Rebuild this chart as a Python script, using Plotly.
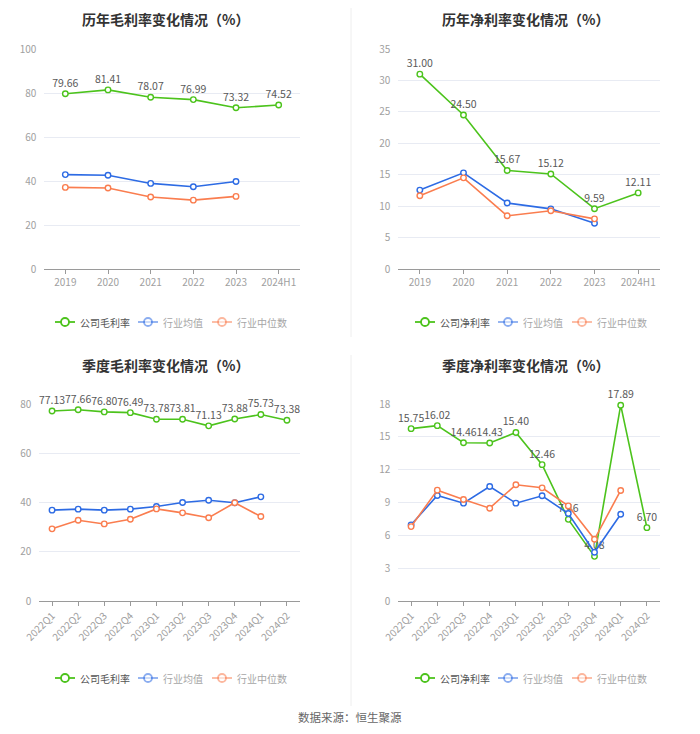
import plotly.graph_objects as go

W, H = 700, 734
OFF = 8  # page body margin
FW, FH = W - 2 * OFF, H - 2 * OFF

years = ["2019", "2020", "2021", "2022", "2023", "2024H1"]
annual_gross_company = [79.66, 81.41, 78.07, 76.99, 73.32, 74.52]
annual_gross_avg = [42.9, 42.6, 38.9, 37.4, 39.8]
annual_gross_median = [37.1, 36.8, 32.7, 31.3, 33.0]

annual_net_company = [31.00, 24.50, 15.67, 15.12, 9.59, 12.11]
annual_net_avg = [12.55, 15.3, 10.5, 9.57, 7.29]
annual_net_median = [11.65, 14.5, 8.46, 9.26, 7.98]

quarters = ["2022Q1", "2022Q2", "2022Q3", "2022Q4", "2023Q1", "2023Q2",
            "2023Q3", "2023Q4", "2024Q1", "2024Q2"]
q_gross_company = [77.13, 77.66, 76.80, 76.49, 73.78, 73.81, 71.13, 73.88, 75.73, 73.38]
q_gross_avg = [36.9, 37.3, 36.9, 37.3, 38.4, 40.0, 40.9, 39.9, 42.3]
q_gross_median = [29.3, 32.8, 31.3, 33.2, 37.4, 35.8, 33.8, 39.9, 34.3]

q_net_company = [15.75, 16.02, 14.46, 14.43, 15.40, 12.46, 7.46, 4.08, 17.89, 6.70]
q_net_avg = [6.96, 9.64, 8.94, 10.46, 8.94, 9.61, 7.99, 4.45, 7.93]
q_net_median = [6.80, 10.13, 9.27, 8.48, 10.62, 10.34, 8.69, 5.64, 10.10]

titles = ["历年毛利率变化情况（%）", "历年净利率变化情况（%）",
          "季度毛利率变化情况（%）", "季度净利率变化情况（%）"]
legend_names = [["公司毛利率", "行业均值", "行业中位数"],
                ["公司净利率", "行业均值", "行业中位数"],
                ["公司毛利率", "行业均值", "行业中位数"],
                ["公司净利率", "行业均值", "行业中位数"]]

GREEN = "#4cc31c"
BLUE = "#2d6be4"
ORANGE = "#fa7d4f"
FONT = "Noto Sans CJK SC"


def px_x(x):
    return (x - OFF) / FW


def px_y(y):
    return 1 - (y - OFF) / FH


panels = [
    dict(cats=years, series=[annual_gross_company, annual_gross_avg, annual_gross_median],
         xd=(44, 300), yd=(49, 269), yr=(0, 100), dt=20, rot=False,
         title=(165, 12), leg=(55, 322)),
    dict(cats=years, series=[annual_net_company, annual_net_avg, annual_net_median],
         xd=(398, 660), yd=(49, 269), yr=(0, 35), dt=5, rot=False,
         title=(525, 12), leg=(415, 322)),
    dict(cats=quarters, series=[q_gross_company, q_gross_avg, q_gross_median],
         xd=(39, 300), yd=(404, 601), yr=(0, 80), dt=20, rot=True,
         title=(165, 365), leg=(55, 678)),
    dict(cats=quarters, series=[q_net_company, q_net_avg, q_net_median],
         xd=(398, 660), yd=(404, 601), yr=(0, 18), dt=3, rot=True,
         title=(525, 365), leg=(415, 678)),
]

fig = go.Figure()
colors = [GREEN, BLUE, ORANGE]
shapes = []
annotations = []

for i, p in enumerate(panels):
    n = i + 1
    xa = "x" if n == 1 else f"x{n}"
    ya = "y" if n == 1 else f"y{n}"
    for k, vals in enumerate(p["series"]):
        cats = p["cats"][:len(vals)]
        if k == 0:
            kw = dict(mode="lines+markers+text", text=[f"{v:.2f}" for v in vals],
                      textposition="top center",
                      textfont=dict(family=FONT, size=10.5, color="#595959"))
        else:
            kw = dict(mode="lines+markers")
        fig.add_trace(go.Scatter(
            x=cats, y=vals, xaxis=xa, yaxis=ya, showlegend=False,
            line=dict(color=colors[k], width=1.6),
            marker=dict(symbol="circle", size=5.5, color="white",
                        line=dict(color=colors[k], width=1.4)),
            cliponaxis=False, **kw))
    xkey = "xaxis" if n == 1 else f"xaxis{n}"
    ykey = "yaxis" if n == 1 else f"yaxis{n}"
    fig.update_layout({
        xkey: dict(domain=[px_x(p["xd"][0]), px_x(p["xd"][1])], anchor=ya,
                   type="category", categoryorder="array", categoryarray=p["cats"],
                   range=[-0.5, len(p["cats"]) - 0.5], automargin=False,
                   showline=True, linecolor="#9a9a9a", linewidth=1,
                   ticks="outside", ticklen=4, tickcolor="#9a9a9a",
                   showgrid=False, zeroline=False,
                   tickangle=-45 if p["rot"] else 0,
                   tickfont=dict(family=FONT, size=10, color="#a0a0a0")),
        ykey: dict(domain=[px_y(p["yd"][1]), px_y(p["yd"][0])], anchor=xa,
                   range=list(p["yr"]), dtick=p["dt"], tick0=0, automargin=False,
                   showgrid=True, gridcolor="#e8ebf3", gridwidth=1,
                   zeroline=False, showline=False, ticks="",
                   ticksuffix="   ",
                   tickfont=dict(family=FONT, size=10, color="#a0a0a0")),
    })
    tx, ty = p["title"]
    if ty - 9 < OFF:
        tyv, yanc = px_y(OFF), "top"
    else:
        tyv, yanc = px_y(ty), "middle"
    annotations.append(dict(x=px_x(tx), y=tyv,
                            xref="paper", yref="paper", showarrow=False,
                            text=f"<b>{titles[i]}</b>", xanchor="center", yanchor=yanc,
                            borderpad=0,
                            font=dict(family=FONT, size=14, color="#333333")))
    lx, ly = p["leg"]
    offsets = [0, 83, 157]
    for k in range(3):
        x0 = lx + offsets[k]
        op = 1.0 if k == 0 else 0.55
        yc = px_y(ly)
        shapes.append(dict(type="line", xref="paper", yref="paper",
                           x0=px_x(x0), x1=px_x(x0 + 20), y0=yc, y1=yc,
                           line=dict(color=colors[k], width=1.8), opacity=op))
        shapes.append(dict(type="circle", xref="paper", yref="paper",
                           x0=px_x(x0 + 6), x1=px_x(x0 + 14),
                           y0=px_y(ly + 4), y1=px_y(ly - 4),
                           fillcolor="white", line=dict(color=colors[k], width=1.8),
                           opacity=op))
        annotations.append(dict(x=px_x(x0 + 23), y=yc, xref="paper", yref="paper",
                                showarrow=False, text=legend_names[i][k],
                                xanchor="left", yanchor="middle",
                                font=dict(family=FONT, size=10,
                                          color="#555555" if k == 0 else "#a6a6a6")))

shapes.append(dict(type="line", xref="paper", yref="paper",
                   x0=px_x(351), x1=px_x(351), y0=px_y(OFF), y1=px_y(337),
                   line=dict(color="#eeeeee", width=1)))
shapes.append(dict(type="line", xref="paper", yref="paper",
                   x0=px_x(351), x1=px_x(351), y0=px_y(355), y1=px_y(706),
                   line=dict(color="#eeeeee", width=1)))

annotations.append(dict(x=px_x(350), y=px_y(717), xref="paper", yref="paper",
                        showarrow=False, text="数据来源：恒生聚源",
                        xanchor="center", yanchor="middle",
                        font=dict(family=FONT, size=11.5, color="#666666")))

fig.update_layout(width=FW, height=FH, margin=dict(l=0, r=0, t=0, b=0),
                  paper_bgcolor="white", plot_bgcolor="white",
                  shapes=shapes, annotations=annotations,
                  font=dict(family=FONT))

fig.write_html("out.html")
